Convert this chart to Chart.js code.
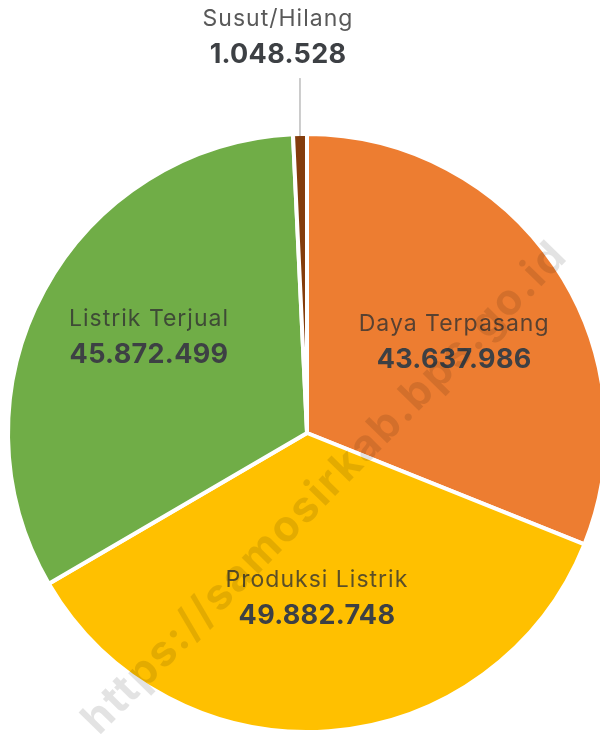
<!DOCTYPE html>
<html>
<head>
<meta charset="utf-8">
<script src="https://cdn.jsdelivr.net/npm/chart.js@4"></script>
<style>
  html, body { margin: 0; padding: 0; background: #fff; }
</style>
</head>
<body>
<canvas id="myChart" width="600" height="734"></canvas>
<script>
const labels = ['Daya Terpasang', 'Produksi Listrik', 'Listrik Terjual', 'Susut/Hilang'];
const values = [43637986, 49882748, 45872499, 1048528];
const colors = ['#ED7D31', '#FFC000', '#70AD47', '#843C0C'];
const watermark = 'https://samosirkab.bps.go.id';

const FONT = 'Inter, "Noto Sans", sans-serif';

function fmt(n) {
  return n.toString().replace(/\B(?=(\d{3})+(?!\d))/g, '.');
}

// hand placed label tweaks (dx, dy), like the manually dragged labels in the original
const nudge = [[1, 11], [-3, -8], [-3, -9], [0, 0]];

// draws the name + value of each slice
const sliceLabels = {
  id: 'sliceLabels',
  afterDatasetsDraw(chart) {
    const ctx = chart.ctx;
    const arcs = chart.getDatasetMeta(0).data;
    const total = values.reduce((a, b) => a + b, 0);
    ctx.save();
    ctx.textAlign = 'center';
    ctx.textBaseline = 'middle';
    arcs.forEach((arc, i) => {
      const mid = (arc.startAngle + arc.endAngle) / 2;
      let x, y;
      if (values[i] / total < 0.02) {
        // small slice: label above the pie with a leader line
        const ex = arc.x + Math.cos(mid) * arc.outerRadius;
        const ey = arc.y + Math.sin(mid) * arc.outerRadius;
        ctx.strokeStyle = '#9a9a9a';
        ctx.lineWidth = 1;
        ctx.beginPath();
        ctx.moveTo(ex, ey + 2);
        ctx.lineTo(ex, ey - 56);
        ctx.stroke();
        x = ex - 22;
        y = ey - 97;
        ctx.fillStyle = '#595959';
      } else {
        const d = arc.outerRadius * 0.59;
        x = arc.x + Math.cos(mid) * d + nudge[i][0];
        y = arc.y + Math.sin(mid) * d - 3 + nudge[i][1];
        ctx.fillStyle = 'rgba(50,50,50,0.8)';
      }
      ctx.letterSpacing = '1px';
      ctx.font = '23px ' + FONT;
      ctx.fillText(labels[i], x, y - 18);
      ctx.letterSpacing = '0.3px';
      ctx.fillStyle = '#3d4044';
      ctx.font = 'bold 27px ' + FONT;
      ctx.fillText(fmt(values[i]), x, y + 18);
    });
    ctx.restore();
  },
  afterDraw(chart) {
    const ctx = chart.ctx;
    ctx.save();
    ctx.translate(325, 488);
    ctx.rotate(-45.5 * Math.PI / 180);
    ctx.letterSpacing = '2px';
    ctx.font = 'bold 43px ' + FONT;
    ctx.fillStyle = 'rgba(0,0,0,0.11)';
    ctx.textAlign = 'center';
    ctx.textBaseline = 'middle';
    ctx.fillText(watermark, 0, 0);
    ctx.restore();
  }
};

const ctx = document.getElementById('myChart');
const myChart = new Chart(ctx, {
  type: 'pie',
  data: {
    labels: labels,
    datasets: [
      {
        data: values,
        backgroundColor: colors,
        borderColor: '#ffffff',
        borderWidth: 4,
        radius: 299,
      },
    ],
  },
  options: {
    responsive: false,
    animation: false,
    layout: { padding: { left: 14, right: 0, top: 132, bottom: 0 } },
    plugins: {
      legend: { display: false },
      tooltip: { enabled: false },
    },
  },
  plugins: [sliceLabels],
});
</script>
</body>
</html>
